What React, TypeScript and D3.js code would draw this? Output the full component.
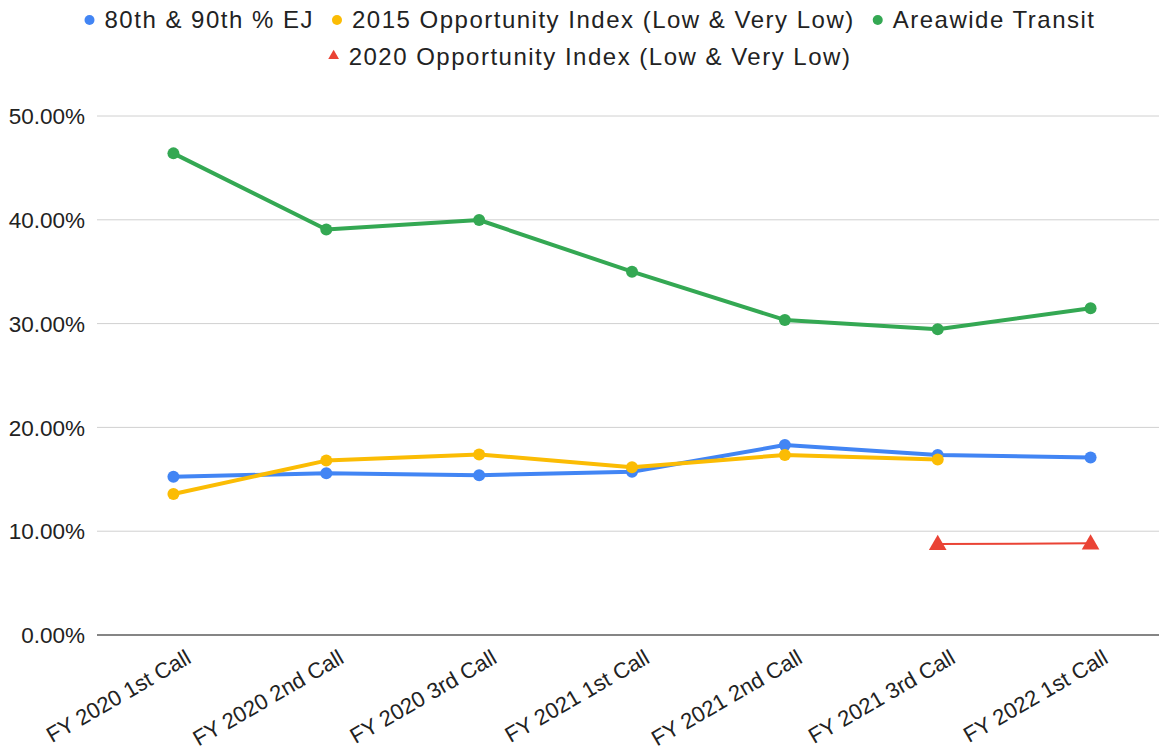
import React, { useEffect, useRef } from "react";
import * as d3 from "d3";

const categories = [
  "FY 2020 1st Call",
  "FY 2020 2nd Call",
  "FY 2020 3rd Call",
  "FY 2021 1st Call",
  "FY 2021 2nd Call",
  "FY 2021 3rd Call",
  "FY 2022 1st Call",
];

const ejValues = [0.1525, 0.1558, 0.154, 0.1573, 0.183, 0.1734, 0.171];
const opp2015Values = [0.1358, 0.168, 0.174, 0.1615, 0.1734, 0.169, null];
const transitValues = [0.464, 0.3907, 0.3998, 0.35, 0.3035, 0.2945, 0.3147];
const opp2020Values = [null, null, null, null, null, 0.0877, 0.0883];

const yTicks = [0, 0.1, 0.2, 0.3, 0.4, 0.5];

const series = [
  { name: "80th & 90th % EJ", values: ejValues, color: "#4285f4", width: 4, shape: "circle" },
  { name: "2015 Opportunity Index (Low & Very Low)", values: opp2015Values, color: "#fbbc04", width: 4, shape: "circle" },
  { name: "Areawide Transit", values: transitValues, color: "#34a853", width: 4, shape: "circle" },
  { name: "2020 Opportunity Index (Low & Very Low)", values: opp2020Values, color: "#ea4335", width: 2, shape: "triangle" },
];

const W = 1159;
const H = 754;
const FONT = "'Liberation Sans', Arial, sans-serif";

export default function App() {
  const svgRef = useRef<SVGSVGElement>(null);

  useEffect(() => {
    const svgEl = d3.select(svgRef.current);
    svgEl.selectAll("*").remove();
    const svg = svgEl.append("g");

    const plot = { left: 97, right: 1167, top: 116, bottom: 635 };

    const x = d3.scaleBand<string>().domain(categories).range([plot.left, plot.right]).padding(0);
    const cx = (c: string) => (x(c) as number) + x.bandwidth() / 2;
    const y = d3.scaleLinear().domain([0, 0.5]).range([plot.bottom, plot.top]);

    // gridlines
    svg.append("g")
      .selectAll("line")
      .data(yTicks.filter((t) => t > 0))
      .enter().append("line")
      .attr("x1", plot.left)
      .attr("x2", W)
      .attr("y1", (d) => y(d))
      .attr("y2", (d) => y(d))
      .attr("stroke", "#d0d0d0")
      .attr("stroke-width", 1);

    // baseline
    svg.append("line")
      .attr("x1", plot.left)
      .attr("x2", W)
      .attr("y1", y(0))
      .attr("y2", y(0))
      .attr("stroke", "#858585")
      .attr("stroke-width", 2);

    // y labels
    const fmt = d3.format(".2%");
    svg.append("g")
      .selectAll("text")
      .data(yTicks)
      .enter().append("text")
      .attr("x", 85)
      .attr("y", (d) => y(d))
      .attr("dy", "0.36em")
      .attr("text-anchor", "end")
      .attr("font-family", FONT)
      .attr("font-size", 22.5)
      .attr("fill", "#222")
      .text((d) => fmt(d));

    // x labels
    svg.append("g")
      .selectAll("text")
      .data(categories)
      .enter().append("text")
      .attr("transform", (d) => `translate(${cx(d) + 19},${662}) rotate(-30)`)
      .attr("text-anchor", "end")
      .attr("font-family", FONT)
      .attr("font-size", 22)
      .attr("fill", "#222")
      .text((d) => d);

    // series
    series.forEach((s) => {
      const pts = categories
        .map((c, i) => ({ c, v: s.values[i] }))
        .filter((p) => p.v !== null) as { c: string; v: number }[];
      const line = d3.line<{ c: string; v: number }>()
        .x((d) => cx(d.c))
        .y((d) => y(d.v));
      svg.append("path")
        .datum(pts)
        .attr("d", line)
        .attr("fill", "none")
        .attr("stroke", s.color)
        .attr("stroke-width", s.width)
        .attr("stroke-linejoin", "round");
      if (s.shape === "circle") {
        svg.append("g")
          .selectAll("circle")
          .data(pts)
          .enter().append("circle")
          .attr("cx", (d) => cx(d.c))
          .attr("cy", (d) => y(d.v))
          .attr("r", 6)
          .attr("fill", s.color);
      } else {
        svg.append("g")
          .selectAll("path")
          .data(pts)
          .enter().append("path")
          .attr("d", d3.symbol().type(d3.symbolTriangle).size(135)())
          .attr("transform", (d) => `translate(${cx(d.c)},${y(d.v) + 1})`)
          .attr("fill", s.color);
      }
    });

    // legend
    const rows = [series.slice(0, 3), series.slice(3)];
    const baselines = [28, 65];
    const center = 590;
    rows.forEach((row, ri) => {
      const g = svg.append("g");
      let xPos = 0;
      row.forEach((s) => {
        const item = g.append("g").attr("transform", `translate(${xPos},0)`);
        if (s.shape === "circle") {
          item.append("circle").attr("cx", 5).attr("cy", baselines[ri] - 8).attr("r", 5).attr("fill", s.color);
        } else {
          item.append("path")
            .attr("d", d3.symbol().type(d3.symbolTriangle).size(50)())
            .attr("transform", `translate(5,${baselines[ri] - 9})`)
            .attr("fill", s.color);
        }
        const t = item.append("text")
          .attr("x", 20)
          .attr("y", baselines[ri])
          .attr("font-family", FONT)
          .attr("font-size", 24)
          .attr("letter-spacing", 1.5)
          .attr("fill", "#222")
          .text(s.name);
        const tw = (t.node() as SVGTextElement).getComputedTextLength();
        xPos += 20 + tw + 18;
      });
      const total = xPos - 18;
      g.attr("transform", `translate(${center - total / 2},0)`);
    });
  }, []);

  return (
    <>
      <style>{`body{margin:0}`}</style>
      <svg ref={svgRef} width={W} height={H} style={{ display: "block", background: "#fff" }} />
    </>
  );
}
